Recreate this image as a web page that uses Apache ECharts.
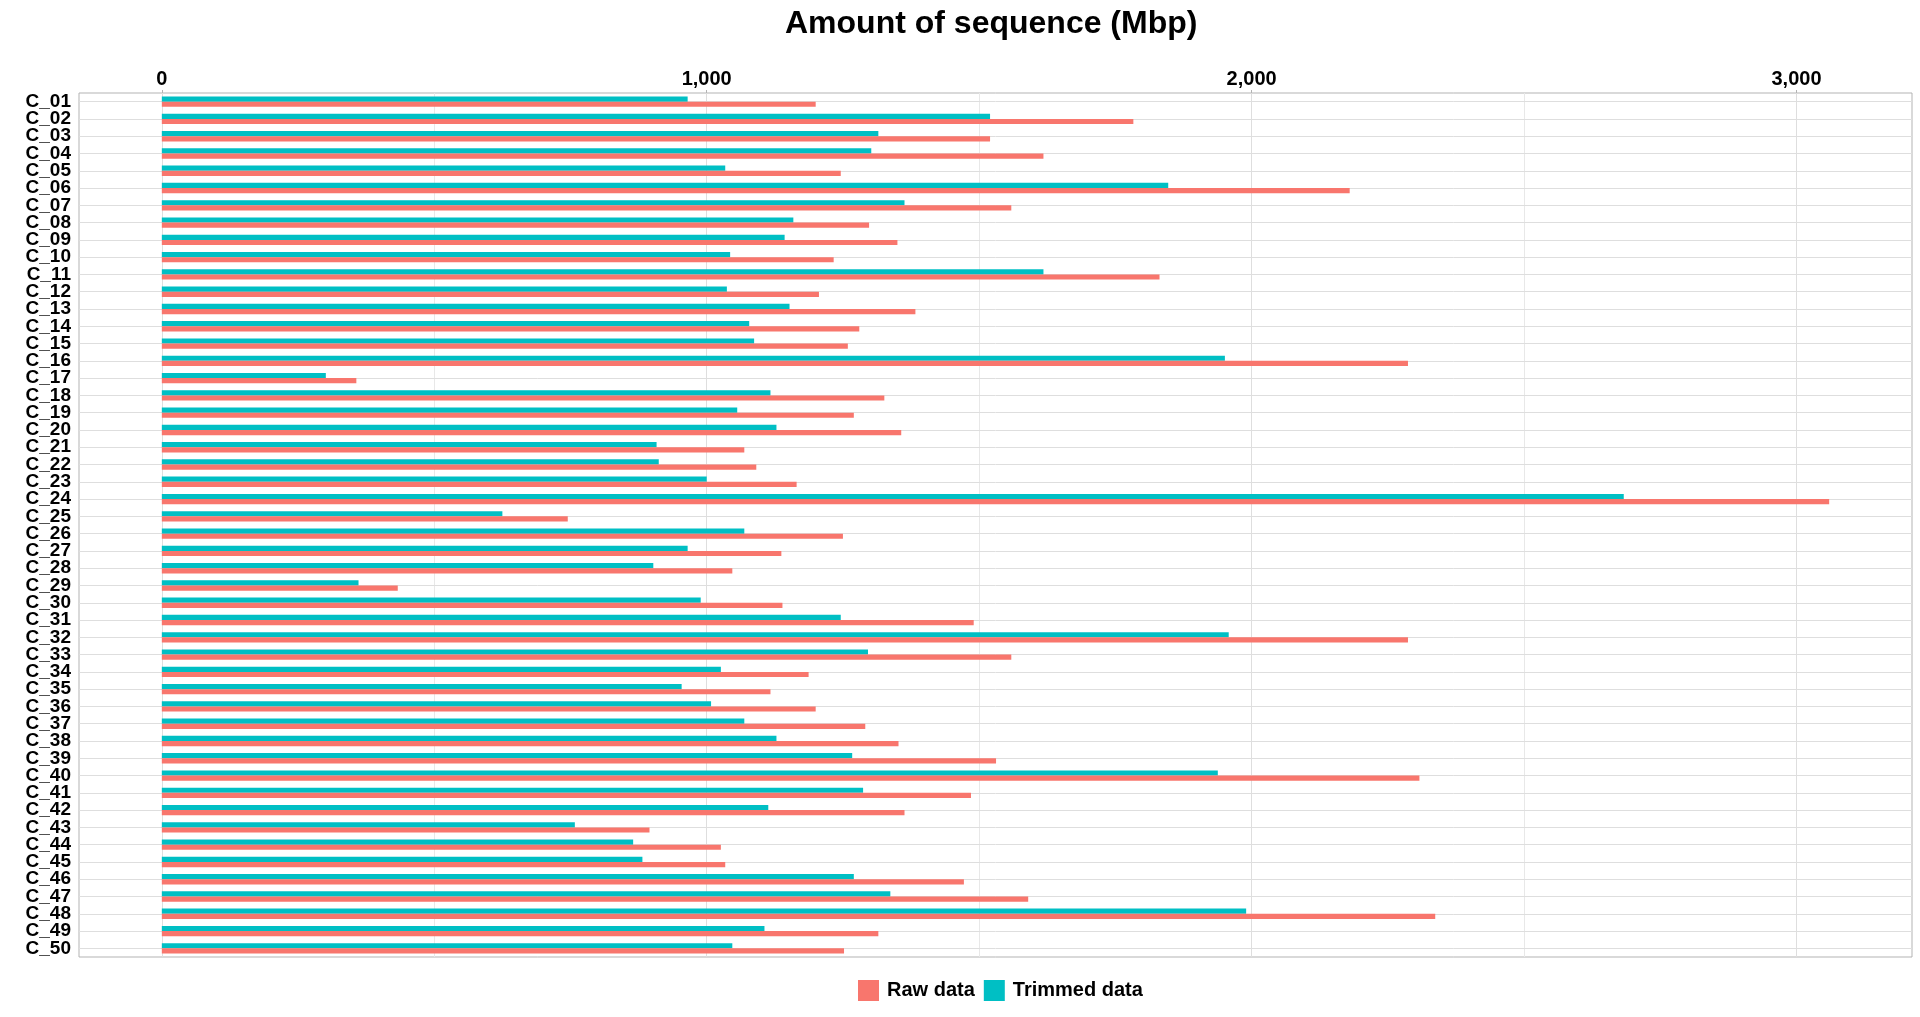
<!DOCTYPE html>
<html>
<head>
<meta charset="utf-8">
<script src="https://cdn.jsdelivr.net/npm/echarts@6/dist/echarts.min.js"></script>
<style>
  html, body { margin: 0; padding: 0; background: #ffffff; }
  #chart { width: 1920px; height: 1017px; }
</style>
</head>
<body>
<div id="chart"></div>
<script>
// ---- data ----
const categories = [
  'C_01','C_02','C_03','C_04','C_05','C_06','C_07','C_08','C_09','C_10',
  'C_11','C_12','C_13','C_14','C_15','C_16','C_17','C_18','C_19','C_20',
  'C_21','C_22','C_23','C_24','C_25','C_26','C_27','C_28','C_29','C_30',
  'C_31','C_32','C_33','C_34','C_35','C_36','C_37','C_38','C_39','C_40',
  'C_41','C_42','C_43','C_44','C_45','C_46','C_47','C_48','C_49','C_50'
];
const rawData = [
  1200, 1783, 1520, 1618, 1246, 2180, 1559, 1298, 1350, 1233,
  1831, 1206, 1383, 1280, 1259, 2287, 357, 1326, 1270, 1357,
  1069, 1091, 1165, 3060, 745, 1250, 1137, 1047, 433, 1139,
  1490, 2287, 1559, 1187, 1117, 1200, 1291, 1352, 1531, 2308,
  1485, 1363, 895, 1026, 1034, 1472, 1590, 2337, 1315, 1252
];
const trimmedData = [
  965, 1520, 1315, 1302, 1034, 1847, 1363, 1159, 1143, 1043,
  1618, 1037, 1152, 1078, 1087, 1951, 301, 1117, 1056, 1128,
  908, 912, 1000, 2683, 625, 1069, 965, 902, 361, 989,
  1246, 1958, 1296, 1026, 954, 1008, 1069, 1128, 1267, 1938,
  1287, 1113, 758, 865, 882, 1270, 1337, 1990, 1106, 1047
];
const xTickValues = [0, 1000, 2000, 3000];
const xMinorValues = [500, 1500, 2500];
const legendNames = ['Raw data', 'Trimmed data'];
const titleText = 'Amount of sequence (Mbp)';

// ---- chart ----
const FONT = '"Liberation Sans", Arial, Helvetica, sans-serif';
const RED = '#F8766D';
const TEAL = '#00BFC4';
const GRID_MAJOR = '#DEDEDE';
const GRID_MINOR = '#E8E8E8';
const BORDER = '#B3B3B3';

const gridLines = [];
xTickValues.forEach(v => gridLines.push({ xAxis: v, lineStyle: { color: GRID_MAJOR, width: 1, type: 'solid' } }));
xMinorValues.forEach(v => gridLines.push({ xAxis: v, lineStyle: { color: GRID_MINOR, width: 1, type: 'solid' } }));
categories.forEach(c => gridLines.push({ yAxis: c, lineStyle: { color: GRID_MAJOR, width: 1, type: 'solid' } }));

const chart = echarts.init(document.getElementById('chart'), null, { renderer: 'canvas' });
chart.setOption({
  animation: false,
  backgroundColor: '#ffffff',
  textStyle: { fontFamily: FONT },
  title: {
    text: titleText,
    left: 785,
    top: 8,
    padding: 0,
    textStyle: { fontFamily: FONT, fontSize: 32, fontWeight: 'bold', color: '#000000' }
  },
  legend: {
    data: legendNames,
    left: 858,
    top: 980,
    padding: 0,
    itemWidth: 21,
    itemHeight: 21,
    itemGap: 9,
    icon: 'rect',
    selectedMode: false,
    textStyle: { fontFamily: FONT, fontSize: 20, fontWeight: 'bold', color: '#000000', padding: [0, 0, 0, 3] }
  },
  grid: {
    left: 79,
    right: 8,
    top: 93,
    bottom: 60,
    show: true,
    borderColor: BORDER,
    borderWidth: 1,
    backgroundColor: '#ffffff',
    containLabel: false
  },
  xAxis: {
    type: 'value',
    position: 'top',
    min: -152,
    max: 3212,
    axisLine: { show: false },
    splitLine: { show: false },
    axisTick: { show: true, length: 3, lineStyle: { color: BORDER }, customValues: xTickValues },
    axisLabel: {
      customValues: xTickValues,
      margin: 4,
      fontFamily: FONT,
      fontSize: 20,
      fontWeight: 'bold',
      color: '#000000',
      formatter: v => String(v).replace(/\B(?=(\d{3})+(?!\d))/g, ',')
    }
  },
  yAxis: {
    type: 'category',
    data: categories,
    inverse: true,
    axisLine: { show: false },
    splitLine: { show: false },
    axisTick: { show: true, alignWithLabel: true, length: 3, lineStyle: { color: BORDER } },
    axisLabel: {
      interval: 0,
      margin: 8,
      padding: [8, 0, 0, 0],
      fontFamily: FONT,
      fontSize: 19,
      fontWeight: 'bold',
      color: '#000000'
    }
  },
  series: [
    {
      name: 'gridlines',
      type: 'line',
      data: [],
      silent: true,
      z: 1,
      markLine: {
        silent: true,
        z: 1,
        symbol: ['none', 'none'],
        label: { show: false },
        emphasis: { disabled: true },
        animation: false,
        data: gridLines
      }
    },
    {
      name: 'Trimmed data',
      type: 'bar',
      data: trimmedData,
      barWidth: '30%',
      barGap: '0%',
      z: 3,
      itemStyle: { color: TEAL }
    },
    {
      name: 'Raw data',
      type: 'bar',
      data: rawData,
      barWidth: '30%',
      barGap: '0%',
      z: 3,
      itemStyle: { color: RED }
    }
  ]
});
</script>
</body>
</html>
